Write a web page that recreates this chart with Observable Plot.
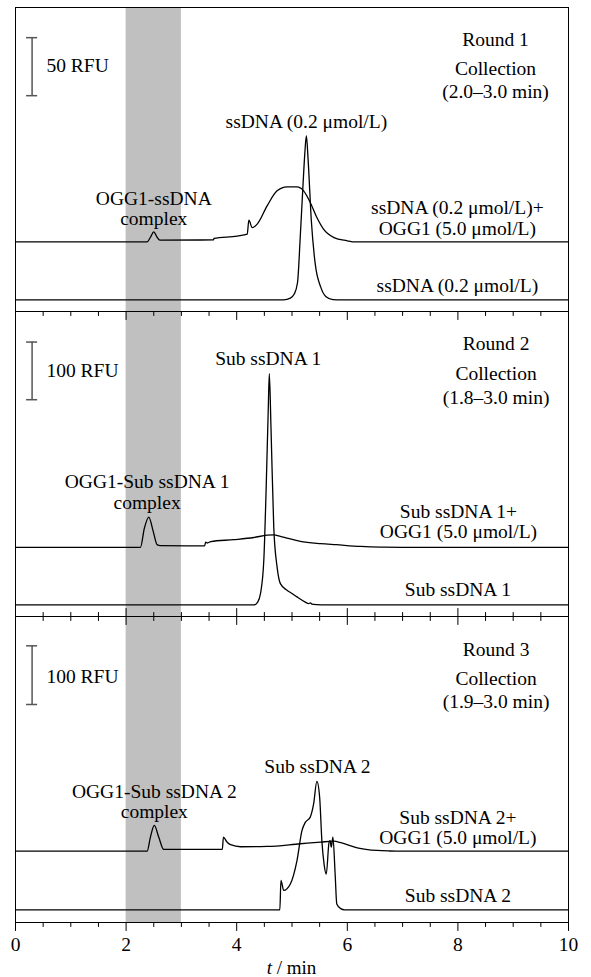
<!DOCTYPE html>
<html><head><meta charset="utf-8">
<script src="https://cdn.jsdelivr.net/npm/d3@7"></script>
<script src="https://cdn.jsdelivr.net/npm/@observablehq/plot@0.6"></script>
<style>
body{margin:0;background:#fff;width:591px;height:977px;overflow:hidden;font-family:"Liberation Serif","Times New Roman",serif;}
#chart svg{display:block}
.xlabel{height:18px;line-height:18px;padding:0 23px 0 15px;text-align:center;font-size:19px;color:#000;font-family:"Liberation Serif","Times New Roman",serif;}
</style></head><body><div id="chart"></div>
<script>
// ---- axis ticks (min) ----
const timeTicksMajor = [0, 2, 4, 6, 8, 10];
const timeTicksMinor = [0.5, 1, 1.5, 2.5, 3, 3.5, 4.5, 5, 5.5, 6.5, 7, 7.5, 8.5, 9, 9.5];
const collectionWindow = [{x1: 2, x2: 3}];

// ---- Round 1 (RFU) ----
const r1Free = [[0,0],[4.85,0],[4.97,1.5],[5.04,5],[5.10,15],[5.15,55],[5.20,100],[5.23,125],[5.26,141.6],[5.29,122],[5.35,68],[5.42,31],[5.52,11],[5.61,3],[5.74,0.3],[5.9,0],[10,0]];
const r1Mix = [[0,0],[2.38,0],[2.44,4],[2.5,8.6],[2.56,4],[2.61,1.5],[3.58,1.7],[3.59,3.0],[4.01,5.0],[4.19,6.6],[4.22,18.7],[4.28,12.3],[4.37,15.3],[4.55,31],[4.73,44],[4.91,47.4],[5.09,47.4],[5.21,44],[5.33,34],[5.45,21],[5.57,11],[5.76,3.7],[6.0,0.9],[6.1,0],[10,0]];
const r1MixOffset = 50;
const r1Bar = [{x: 0.30, y1: 176, y2: 226}];
const r1BarLabel = [{x: 0.56, y: 201.4, text: "50 RFU"}];
const r1Labels = [
  {x: 8.68, y: 224.4, text: "Round 1"},
  {x: 8.68, y: 199, text: "Collection"},
  {x: 8.68, y: 179.8, text: "(2.0–3.0 min)"},
  {x: 5.26, y: 153.7, text: "ssDNA (0.2 μmol/L)"},
  {x: 2.5, y: 87.5, text: "OGG1-ssDNA"},
  {x: 2.5, y: 70, text: "complex"},
  {x: 7.99, y: 79.8, text: "ssDNA (0.2 μmol/L)+"},
  {x: 7.99, y: 61.5, text: "OGG1 (5.0 μmol/L)"},
  {x: 7.99, y: 12.3, text: "ssDNA (0.2 μmol/L)"}
];

// ---- Round 2 (RFU) ----
const r2Free = [[0,0],[4.31,0],[4.38,5],[4.43,19.6],[4.49,77],[4.53,193],[4.57,337],[4.59,401],[4.62,308],[4.67,135],[4.73,66],[4.79,37],[4.91,25.5],[5.0,20],[5.09,14],[5.24,5],[5.30,2.4],[5.33,3.5],[5.36,1.5],[5.45,0.5],[5.6,0],[10,0]];
const r2Mix = [[0,0],[2.26,0],[2.33,33],[2.41,52.5],[2.49,27.7],[2.56,4.6],[2.62,2.9],[3.42,2.5],[3.44,9],[3.47,7.5],[3.53,10],[3.95,13.3],[4.31,17],[4.55,21],[4.67,21.5],[4.79,19],[4.91,16],[5.15,10.4],[5.52,6.4],[5.8,4.5],[6.24,1.5],[6.6,0.3],[7,0],[10,0]];
const r2MixOffset = 100;
const r2Bar = [{x: 0.30, y1: 356, y2: 456}];
const r2BarLabel = [{x: 0.56, y: 405.5, text: "100 RFU"}];
const r2Labels = [
  {x: 8.69, y: 453, text: "Round 2"},
  {x: 8.69, y: 401, text: "Collection"},
  {x: 8.69, y: 359.4, text: "(1.8–3.0 min)"},
  {x: 4.57, y: 427.5, text: "Sub ssDNA 1"},
  {x: 2.38, y: 213, text: "OGG1-Sub ssDNA 1"},
  {x: 2.38, y: 178, text: "complex"},
  {x: 8.01, y: 162.4, text: "Sub ssDNA 1+"},
  {x: 8.01, y: 126.5, text: "OGG1 (5.0 μmol/L)"},
  {x: 8.0, y: 26.7, text: "Sub ssDNA 1"}
];

// ---- Round 3 (RFU) ----
const r3Free = [[0,0],[4.78,0],[4.80,50],[4.85,33],[4.97,44],[5.09,84],[5.18,135],[5.24,149],[5.33,158],[5.39,180],[5.45,219],[5.50,192],[5.54,118],[5.58,78],[5.62,61],[5.67,115],[5.69,118],[5.71,107],[5.74,124],[5.78,61],[5.81,10],[5.88,2],[5.95,0],[10,0]];
const r3Mix = [[0,0],[2.38,0],[2.44,24],[2.51,43.8],[2.59,24],[2.68,3],[3.74,3],[3.76,24],[3.82,16],[3.89,11],[4.07,7.5],[4.55,8],[5.15,12.6],[5.52,15.4],[5.75,17],[5.9,14],[6.18,5.8],[6.54,1.2],[6.77,0.3],[7,0],[10,0]];
const r3MixOffset = 100;
const r3Bar = [{x: 0.30, y1: 350, y2: 450}];
const r3BarLabel = [{x: 0.56, y: 398, text: "100 RFU"}];
const r3Labels = [
  {x: 8.69, y: 443.4, text: "Round 3"},
  {x: 8.69, y: 393.5, text: "Collection"},
  {x: 8.69, y: 355.4, text: "(1.9–3.0 min)"},
  {x: 5.46, y: 243.6, text: "Sub ssDNA 2"},
  {x: 2.51, y: 202, text: "OGG1-Sub ssDNA 2"},
  {x: 2.51, y: 168, text: "complex"},
  {x: 8.0, y: 157.8, text: "Sub ssDNA 2+"},
  {x: 8.0, y: 123.7, text: "OGG1 (5.0 μmol/L)"},
  {x: 8.0, y: 24.4, text: "Sub ssDNA 2"}
];

const FONT = "Liberation Serif, Times New Roman, serif";
const FS = 19.5;
const tickDown = {draw(c, l) { c.moveTo(0, 0); c.lineTo(0, l); }};
const tickUp = {draw(c, l) { c.moveTo(0, 0); c.lineTo(0, -l); }};

function tickMarks(where, dir) {
  const shape = dir === "down" ? tickDown : tickUp;
  return [
    Plot.vector(timeTicksMajor, {x: d => d, frameAnchor: where, anchor: "start", length: 8, shape, stroke: "black", strokeWidth: 1}),
    Plot.vector(timeTicksMinor, {x: d => d, frameAnchor: where, anchor: "start", length: 4, shape, stroke: "black", strokeWidth: 1})
  ];
}

function panel({height, marginTop, marginBottom, yDomain, free, mix, offset, bar, barLabel, labels, extra}) {
  return Plot.plot({
    width: 591, height, marginTop, marginBottom, marginLeft: 15, marginRight: 23,
    x: {domain: [0, 10], ...(extra.axis ? {} : {axis: null})},
    y: {domain: yDomain, axis: null},
    style: {fontFamily: FONT, background: "white", color: "black"},
    marks: [
      Plot.rect(collectionWindow, {x1: "x1", x2: "x2", fill: "#c0c0c0"}),
      Plot.line(free, {x: d => d[0], y: d => d[1], curve: "monotone-x", stroke: "black", strokeWidth: 1.3}),
      Plot.line(mix, {x: d => d[0], y: d => d[1] + offset, curve: "monotone-x", stroke: "black", strokeWidth: 1.3}),
      Plot.ruleX(bar, {x: "x", y1: "y1", y2: "y2", stroke: "#555", strokeWidth: 1.5}),
      Plot.ruleY(bar, {y: "y1", x1: d => d.x - 0.1, x2: d => d.x + 0.1, stroke: "#555", strokeWidth: 1.5}),
      Plot.ruleY(bar, {y: "y2", x1: d => d.x - 0.1, x2: d => d.x + 0.1, stroke: "#555", strokeWidth: 1.5}),
      Plot.text(barLabel, {x: "x", y: "y", text: "text", textAnchor: "start", fontSize: FS, fill: "black"}),
      Plot.text(labels, {x: "x", y: "y", text: "text", textAnchor: "middle", fontSize: FS, fill: "black"}),
      Plot.frame({stroke: "black", strokeWidth: 1}),
      ...extra.marks
    ]
  });
}

const chart = document.getElementById("chart");
chart.append(panel({height: 311, marginTop: 7, marginBottom: 0, yDomain: [-10, 252],
  free: r1Free, mix: r1Mix, offset: r1MixOffset, bar: r1Bar, barLabel: r1BarLabel, labels: r1Labels, extra: {marks: []}}));
chart.append(panel({height: 305, marginTop: 0, marginBottom: 0, yDomain: [-20, 509],
  free: r2Free, mix: r2Mix, offset: r2MixOffset, bar: r2Bar, barLabel: r2BarLabel, labels: r2Labels,
  extra: {marks: [...tickMarks("top", "down"), ...tickMarks("bottom", "up")]}}));
chart.append(panel({height: 343, marginTop: 0, marginBottom: 37, yDomain: [-21.6, 500],
  free: r3Free, mix: r3Mix, offset: r3MixOffset, bar: r3Bar, barLabel: r3BarLabel, labels: r3Labels,
  extra: {axis: true, marks: [...tickMarks("top", "down"), ...tickMarks("bottom", "down"),
    Plot.axisX(timeTicksMajor, {anchor: "bottom", tickSize: 0, tickPadding: 15, fontSize: 19.5, label: null, tickFormat: d => String(d)})]}}));
const xl = document.createElement("div");
xl.className = "xlabel";
xl.innerHTML = "<i>t</i> / min";
chart.append(xl);
</script></body></html>
